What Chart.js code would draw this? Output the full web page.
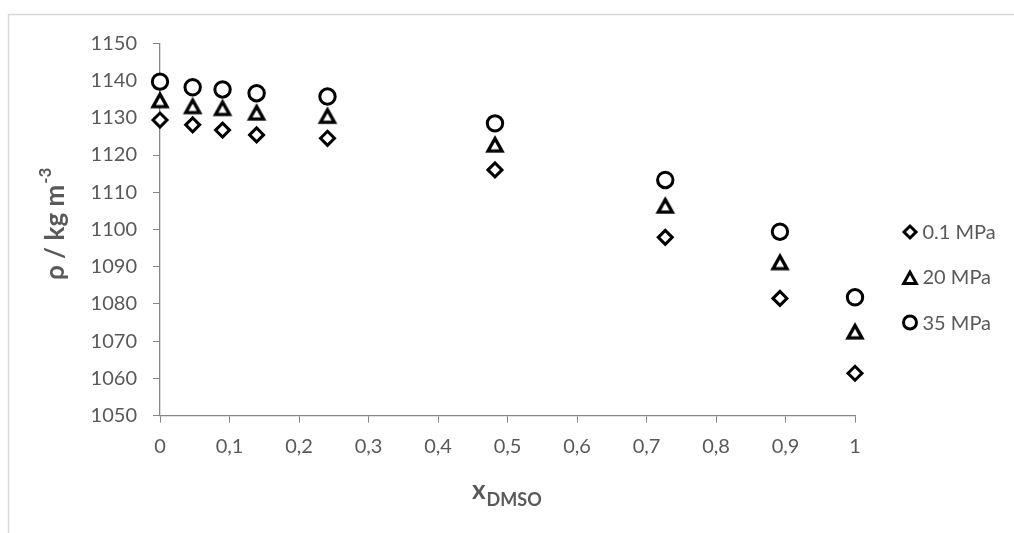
<!DOCTYPE html>
<html>
<head>
<meta charset="utf-8">
<script src="https://cdn.jsdelivr.net/npm/chart.js@4/dist/chart.umd.min.js"></script>
<style>
  html, body { margin: 0; padding: 0; background: #ffffff; }
  #wrap { width: 1014px; height: 533px; }
</style>
</head>
<body>
<div id="wrap"><canvas id="c" width="1014" height="533"></canvas></div>
<script>
// Mole fraction of DMSO
const xDmso = [0, 0.047, 0.090, 0.139, 0.241, 0.482, 0.727, 0.892, 1.0];
// Density (kg m-3) at three pressures
const rho01 = [1129.4, 1128.1, 1126.7, 1125.4, 1124.5, 1116.0, 1097.9, 1081.5, 1061.4];
const rho20 = [1134.9, 1133.3, 1132.8, 1131.6, 1130.7, 1123.0, 1106.6, 1091.4, 1072.8];
const rho35 = [1139.7, 1138.2, 1137.6, 1136.6, 1135.7, 1128.5, 1113.3, 1099.4, 1081.8];
const seriesNames = ['0.1 MPa', '20 MPa', '35 MPa'];
const yTicks = [1050, 1060, 1070, 1080, 1090, 1100, 1110, 1120, 1130, 1140, 1150];

const TEXT = '#595959';
const AXIS = '#868686';
const FONT = "Lato, 'Open Sans', sans-serif";

function pts(xs, ys) { return xs.map((x, i) => ({ x: x, y: ys[i] })); }

// Open triangle marker whose outline box is centred on the point
function triangleMarker(s) {
  const size = Math.ceil(28 * s);
  const cv = document.createElement('canvas');
  cv.width = size; cv.height = size;
  const g = cv.getContext('2d');
  const c = size / 2;
  const a = 7.0 * s, h = 12.6 * s;
  const apex = c - h / 2 + 0.9 * s;
  g.lineWidth = 3.3 * s;
  g.lineJoin = 'miter';
  g.strokeStyle = '#000000';
  g.fillStyle = '#ffffff';
  g.beginPath();
  g.moveTo(c, apex);
  g.lineTo(c + a, apex + h);
  g.lineTo(c - a, apex + h);
  g.closePath();
  g.fill();
  g.stroke();
  return cv;
}

const styles = [
  { pointStyle: 'rectRot', pointRadius: 7, pointBorderWidth: 3 },
  { pointStyle: triangleMarker(1), pointRadius: 8, pointBorderWidth: 3 },
  { pointStyle: 'circle', pointRadius: 7.7, pointBorderWidth: 3 }
];
const legendStyles = [
  { pointStyle: 'rectRot', radius: 6, borderWidth: 3 },
  { pointStyle: triangleMarker(0.9), radius: 7, borderWidth: 3 },
  { pointStyle: 'circle', radius: 6.5, borderWidth: 3 }
];
const values = [rho01, rho20, rho35];

const datasets = values.map((v, i) => Object.assign({
  label: seriesNames[i],
  data: pts(xDmso, v),
  showLine: false,
  clip: false,
  borderColor: '#000000',
  backgroundColor: '#ffffff',
  pointBorderColor: '#000000',
  pointBackgroundColor: '#ffffff'
}, styles[i]));

// Light frame along the top and left edges
const framePlugin = {
  id: 'frame',
  beforeDraw(chart) {
    const ctx = chart.ctx;
    ctx.save();
    ctx.strokeStyle = '#d9d9d9';
    ctx.lineWidth = 1.5;
    ctx.beginPath();
    ctx.moveTo(8.5, chart.height);
    ctx.lineTo(8.5, 14.5);
    ctx.lineTo(chart.width, 14.5);
    ctx.stroke();
    ctx.restore();
  }
};

// Axis titles with sub/superscripts and a marker legend on the right
const annotPlugin = {
  id: 'annot',
  afterDraw(chart) {
    const ctx = chart.ctx;
    ctx.save();
    ctx.fillStyle = TEXT;
    ctx.textBaseline = 'alphabetic';
    ctx.textAlign = 'left';

    // y title: rho / kg m^-3, rotated
    ctx.save();
    ctx.translate(63.5, 280);
    ctx.rotate(-Math.PI / 2);
    ctx.font = "bold 26px " + FONT;
    const main = '\u03C1 / kg m';
    ctx.fillText(main, 0, 0);
    const w = ctx.measureText(main).width;
    ctx.font = "bold 17px " + FONT;
    ctx.fillText('-3', w + 1, -13);
    ctx.restore();

    // x title: x_DMSO
    ctx.font = "bold 26px " + FONT;
    ctx.fillText('x', 472, 499);
    const wx = ctx.measureText('x').width;
    ctx.font = "bold 18px " + FONT;
    ctx.fillText('DMSO', 472 + wx + 1, 506);

    // legend
    const rows = [232, 277, 322.5];
    ctx.font = "20px " + FONT;
    ctx.textBaseline = 'middle';
    chart.data.datasets.forEach((ds, i) => {
      const ls = legendStyles[i];
      ctx.save();
      ctx.strokeStyle = '#000000';
      ctx.fillStyle = '#ffffff';
      ctx.lineWidth = ls.borderWidth;
      Chart.helpers.drawPoint(ctx, { pointStyle: ls.pointStyle, radius: ls.radius, borderWidth: ls.borderWidth, rotation: 0 }, 910, rows[i]);
      ctx.restore();
      ctx.fillStyle = TEXT;
      ctx.fillText(ds.label, 922.5, rows[i] + 1);
    });
    ctx.restore();
  }
};

new Chart(document.getElementById('c'), {
  type: 'scatter',
  data: { datasets: datasets },
  plugins: [framePlugin, annotPlugin],
  options: {
    responsive: false,
    animation: false,
    devicePixelRatio: 1,
    layout: { padding: { top: 43.3, right: 159, bottom: 0, left: 0 } },
    plugins: {
      legend: { display: false },
      tooltip: { enabled: false }
    },
    scales: {
      x: {
        type: 'linear',
        min: 0,
        max: 1,
        afterFit(scale) { scale.height = 117.3; },
        ticks: {
          stepSize: 0.1,
          color: TEXT,
          font: { family: FONT, size: 20 },
          padding: 12,
          maxRotation: 0,
          callback: (v) => (Math.round(v * 10) / 10).toString().replace('.', ',')
        },
        grid: { drawOnChartArea: false, drawTicks: true, tickLength: 7, color: AXIS, lineWidth: 1 },
        border: { display: true, color: AXIS, width: 1.3 }
      },
      y: {
        type: 'linear',
        min: yTicks[0],
        max: yTicks[yTicks.length - 1],
        afterFit(scale) { scale.width = 160; },
        afterBuildTicks(scale) { scale.ticks = yTicks.map(v => ({ value: v })); },
        ticks: {
          color: TEXT,
          font: { family: FONT, size: 20 },
          padding: 16,
          callback: (v) => String(v)
        },
        grid: { drawOnChartArea: false, drawTicks: true, tickLength: 7, color: AXIS, lineWidth: 1 },
        border: { display: true, color: AXIS, width: 1.3 }
      }
    }
  }
});
</script>
</body>
</html>
